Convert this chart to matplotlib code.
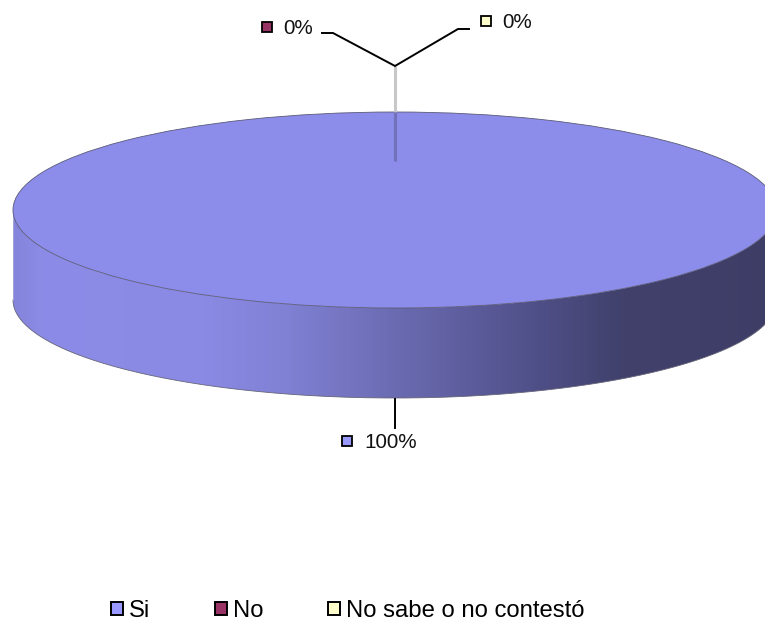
import numpy as np
import matplotlib
matplotlib.use("Agg")
import matplotlib.pyplot as plt
from matplotlib.colors import LinearSegmentedColormap
from matplotlib.patches import Patch, Polygon

categories = ["Si", "No", "No sabe o no contestó"]
values = [100, 0, 0]
colors = ["#9999FF", "#993366", "#FFFFCC"]

W, H = 765, 621
plt.rcParams["font.family"] = ["Liberation Sans", "DejaVu Sans"]

fig = plt.figure(figsize=(W / 100, H / 100), dpi=100)

# overlay in pixel coordinates for side wall, leaders and labels
ax = fig.add_axes([0, 0, 1, 1])
ax.set_xlim(0, W)
ax.set_ylim(H, 0)
ax.axis("off")

cx, cy, rx, ry, depth = 395, 210, 382, 98, 90

# side wall of the disc
t = np.linspace(0, np.pi, 300)
lower_x = cx + rx * np.cos(t)
lower_y = cy + ry * np.sin(t)
wall = np.r_[np.c_[lower_x, lower_y + depth], np.c_[lower_x[::-1], lower_y[::-1]]]
shade = LinearSegmentedColormap.from_list(
    "shade",
    [(0.0, "#8484DC"), (0.04, "#8C8CE8"), (0.25, "#8A8AE4"), (0.36, "#8080D4"),
     (0.5, "#6B6BB2"), (0.68, "#50508A"), (0.8, "#41416C"), (1.0, "#3D3D66")],
)
grad = ax.imshow(np.linspace(0, 1, 512)[None, :], cmap=shade, aspect="auto",
                 extent=[13, 777, 398, 112], zorder=1)
ax.set_xlim(0, W)
ax.set_ylim(H, 0)
clip = Polygon(wall, closed=True, transform=ax.transData, fc="none", ec="none")
ax.add_patch(clip)
grad.set_clip_path(clip)
ax.plot(lower_x, lower_y + depth, color="#66667A", lw=0.6, zorder=2)
ax.plot([13, 13], [cy, cy + depth], color="#B0B0D0", lw=0.5, zorder=2)

# top of the disc: the real pie, squashed
pie_ax = fig.add_axes([13 / W, 1 - 308 / H, 764 / W, 196 / H], zorder=2)
wedges, _ = pie_ax.pie(values, colors=colors, startangle=90, counterclock=False, radius=1)
pie_ax.set_xlim(-1, 1)
pie_ax.set_ylim(-1, 1)
pie_ax.set_aspect("auto")
pie_ax.patch.set_alpha(0)
wedges[0].set_facecolor("#8C8CEA")
wedges[0].set_edgecolor("#5A5A78")
wedges[0].set_linewidth(0.6)
for w in wedges[1:]:
    w.set_visible(False)

# overlay on top for the leaders and labels
top = fig.add_axes([0, 0, 1, 1], zorder=3)
top.set_xlim(0, W)
top.set_ylim(H, 0)
top.axis("off")

top.plot([395, 395], [66, 112], color="#C8C8C8", lw=2.2, solid_capstyle="butt")
top.plot([395, 395], [112, 161], color="#7272BC", lw=2.2, solid_capstyle="butt")
top.plot([322, 333, 395, 458, 469], [33, 33, 66, 29, 29], color="black", lw=1.4,
         solid_joinstyle="miter")
top.plot([395, 395], [399, 428], color="black", lw=1.4)

label_pos = [(364, 443), (283, 28), (502, 22)]
marker_pos = [(347, 441), (267, 27), (486, 21)]
for v, c, (tx, ty), (mx, my) in zip(values, colors, label_pos, marker_pos):
    top.text(tx, ty, f"{v}%", fontsize=14.9, color="#111111", ha="left", va="center")
    top.plot([mx], [my], marker="s", ms=7.6, mfc=c, mec="black", mew=1.3, ls="none")

handles = [Patch(fc=c, ec="black", lw=1.4) for c in colors]
top.legend(handles, categories, loc="center left", bbox_to_anchor=(111 / W, 1 - 611 / H),
           ncol=3, frameon=False, fontsize=17.2, handlelength=0.52, handleheight=0.52,
           handletextpad=0.22, columnspacing=2.72, borderpad=0, borderaxespad=0)

fig.savefig("out.png", dpi=100)
